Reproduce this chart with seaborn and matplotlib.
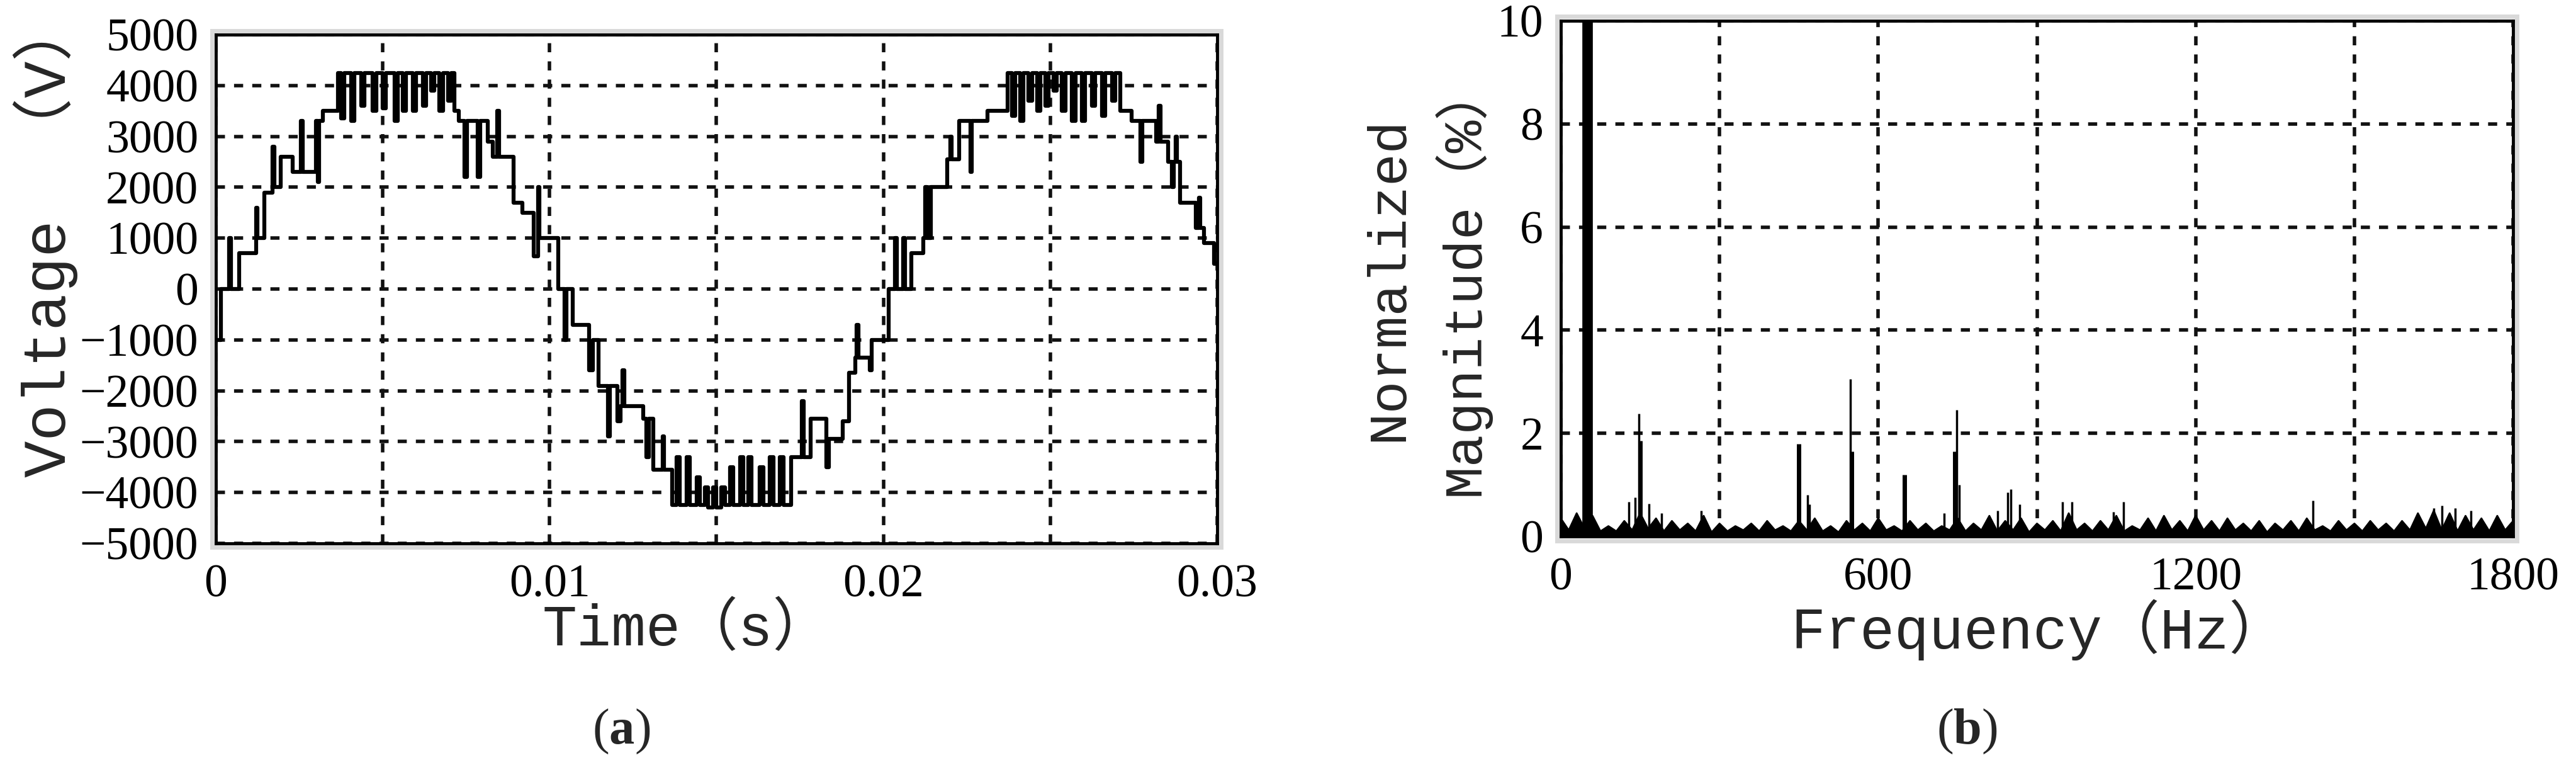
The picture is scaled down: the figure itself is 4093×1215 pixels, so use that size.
import matplotlib
matplotlib.use("Agg")
import matplotlib.pyplot as plt
from matplotlib.patches import Rectangle
import numpy as np
import pandas as pd
import seaborn as sns

# ---- (a) inverter output voltage, step breakpoints ----
# times in ms, voltage in V (held until the next breakpoint)
seg1_t = [0.00, 0.15, 0.40, 0.45, 0.70, 1.20, 1.25, 1.45, 1.70, 1.75,
          1.95, 2.30, 2.55, 2.60, 3.00, 3.05, 3.10, 3.20, 3.66, 3.75,
          3.85, 4.05, 4.15, 4.35, 4.45, 4.70, 4.80, 5.00, 5.10, 5.35,
          5.45, 5.60, 5.70, 5.90, 6.00, 6.20, 6.30, 6.45, 6.55, 6.70,
          6.80, 6.95, 7.05, 7.15, 7.27, 7.45, 7.52, 7.85, 7.92, 8.14,
          8.30, 8.43, 8.48, 8.91, 9.19, 9.53, 9.65, 9.70]
seg1_v = [-1000, 0, 1000, 0, 700, 1600, 1000, 1900, 2800, 2000,
          2600, 2300, 3300, 2300, 3300, 2100, 3300, 3500, 4250, 3350,
          4250, 3300, 4250, 3600, 4250, 3500, 4250, 3550, 4250, 3300,
          4250, 3500, 4250, 3500, 4250, 3600, 4250, 3900, 4250, 3500,
          4250, 3700, 4250, 3500, 3300, 2200, 3300, 2200, 3300, 2900,
          2600, 3500, 2600, 1700, 1500, 650, 2000, 1000]

seg2_t = [10.25, 10.45, 10.50, 10.70, 11.18, 11.30, 11.47, 11.75, 11.80, 12.04,
          12.12, 12.18, 12.23, 12.81, 12.90, 12.97, 13.10, 13.38, 13.43, 13.68,
          13.80, 13.90, 14.10, 14.20, 14.40, 14.50, 14.65, 14.75, 14.90, 15.00,
          15.15, 15.25, 15.40, 15.50, 15.70, 15.80, 15.95, 16.05, 16.30, 16.40,
          16.60, 16.70, 16.90, 17.00, 17.24, 17.55, 17.62, 17.82, 18.30, 18.36,
          18.78, 18.97, 19.16, 19.20, 19.25, 19.60, 19.65]
seg2_v = [0, -1000, 0, -700, -1600, -1000, -1900, -2900, -1900, -2600,
          -2300, -1600, -2300, -2550, -3300, -2550, -3550, -2900, -3550, -4250,
          -3300, -4250, -3300, -4250, -3700, -4250, -3900, -4300, -3900, -4300,
          -3900, -4250, -3500, -4250, -3300, -4250, -3300, -4250, -3500, -4250,
          -3300, -4250, -3300, -4250, -3300, -2200, -3300, -2550, -3500, -2950,
          -2600, -1650, -1350, -700, -1350, -1600, -1000]

seg3_t = [20.15, 20.35, 20.40, 20.60, 20.65, 20.83, 21.19, 21.25, 21.30, 21.43,
          21.91, 22.00, 22.05, 22.27, 22.60, 22.65, 23.11, 23.72, 23.85, 23.95,
          24.10, 24.20, 24.35, 24.45, 24.60, 24.70, 24.85, 24.95, 25.10, 25.20,
          25.35, 25.45, 25.65, 25.75, 25.95, 26.05, 26.25, 26.35, 26.55, 26.65,
          26.85, 26.95, 27.10, 27.20, 27.44, 27.70, 27.75, 28.17, 28.25, 28.30,
          28.53, 28.65, 28.70, 28.75, 28.80, 28.89, 29.36, 29.45, 29.50, 29.60,
          29.90, 30.00]
seg3_v = [0, 1000, 0, 1000, 0, 700, 1000, 2000, 1000, 2000,
          2550, 3000, 2550, 3300, 2300, 3300, 3500, 4250, 3400, 4250,
          3300, 4250, 3700, 4250, 3500, 4250, 3600, 4250, 3900, 4250,
          3500, 4250, 3300, 4250, 3300, 4250, 3600, 4250, 3400, 4250,
          3700, 4250, 3500, 3500, 3300, 2500, 3300, 2900, 3600, 2900,
          2500, 2000, 2500, 3000, 2500, 1700, 1200, 1800, 1200, 900,
          500, 500]

time_ticks = [0, 0.005, 0.01, 0.015, 0.02, 0.025, 0.03]
time_labels = ["0", "", "0.01", "", "0.02", "", "0.03"]
volt_ticks = [-5000, -4000, -3000, -2000, -1000, 0, 1000, 2000, 3000, 4000, 5000]

# ---- (b) harmonic spectrum, % of fundamental ----
fund_freq = [50]
fund_mag = [100]
main_freq = [150, 450, 550, 650, 745]
main_mag = [1.85, 1.8, 1.65, 1.2, 1.65]
spike_freq = [128, 140, 147, 167, 190, 265, 466, 470, 547, 725, 748, 753,
              826, 845, 850, 867, 948, 966, 1045, 1064, 1422, 1650, 1665,
              1690, 1720]
spike_mag = [0.67, 0.76, 2.38, 0.63, 0.45, 0.5, 0.8, 0.62, 3.05, 0.45, 2.45,
             1.0, 0.5, 0.85, 0.92, 0.62, 0.67, 0.67, 0.47, 0.67, 0.7, 0.55,
             0.6, 0.55, 0.5]
# noise floor, sampled every 15 Hz
noise_freq = list(range(0, 1801, 15))
noise_mag = [0.35, 0.12, 0.45, 0.15, 0.40, 0.10, 0.20, 0.10, 0.30, 0.12,
             0.45, 0.15, 0.35, 0.10, 0.30, 0.12, 0.25, 0.10, 0.40, 0.08,
             0.25, 0.10, 0.20, 0.12, 0.25, 0.10, 0.30, 0.12, 0.20, 0.10,
             0.30, 0.12, 0.35, 0.10, 0.20, 0.08, 0.30, 0.12, 0.25, 0.10,
             0.35, 0.12, 0.20, 0.10, 0.30, 0.12, 0.25, 0.10, 0.20, 0.12,
             0.35, 0.10, 0.25, 0.12, 0.40, 0.10, 0.30, 0.12, 0.35, 0.08,
             0.25, 0.12, 0.30, 0.10, 0.45, 0.12, 0.25, 0.10, 0.30, 0.12,
             0.40, 0.10, 0.20, 0.12, 0.35, 0.10, 0.40, 0.12, 0.30, 0.10,
             0.40, 0.12, 0.30, 0.10, 0.35, 0.12, 0.25, 0.10, 0.30, 0.08,
             0.25, 0.12, 0.30, 0.10, 0.35, 0.12, 0.20, 0.10, 0.30, 0.12,
             0.25, 0.10, 0.30, 0.12, 0.25, 0.10, 0.30, 0.12, 0.45, 0.15,
             0.50, 0.12, 0.45, 0.10, 0.40, 0.12, 0.35, 0.10, 0.40, 0.12,
             0.30]

freq_ticks = [0, 300, 600, 900, 1200, 1500, 1800]
freq_labels = ["0", "", "600", "", "1200", "", "1800"]
mag_ticks = [0, 2, 4, 6, 8, 10]

# ---- style ----
sns.set_style("white")
plt.rcParams["font.family"] = ["Liberation Serif", "Noto Sans CJK SC"]
plt.rcParams["mathtext.fontset"] = "custom"
plt.rcParams["mathtext.rm"] = "Liberation Serif"
plt.rcParams["mathtext.bf"] = "Liberation Serif:bold"

label_font = ["Liberation Mono", "Noto Sans CJK SC"]
label_size = 66
ink = "#111111"
grid_style = dict(color=ink, linestyle=(0, (2.6, 2.6)), linewidth=4)

fig = plt.figure(figsize=(40.93, 12.15), dpi=100)
ax1 = fig.add_axes([0.0838, 0.2897, 0.3887, 0.665])
ax2 = fig.add_axes([0.6059, 0.2988, 0.3697, 0.674])

# (a) voltage waveform
wave = pd.DataFrame({
    "t": np.array(seg1_t + seg2_t + seg3_t) / 1000.0,
    "v": seg1_v + seg2_v + seg3_v,
})
sns.lineplot(data=wave, x="t", y="v", ax=ax1, color="black", linewidth=4.5,
             drawstyle="steps-post", estimator=None, sort=False)
ax1.set_xlim(0, 0.03)
ax1.set_ylim(-5000, 5000)
ax1.set_xticks(time_ticks)
ax1.set_xticklabels(time_labels)
ax1.set_yticks(volt_ticks)
ax1.set_xlabel("Time（s）", fontsize=label_size, family=label_font, va="center")
ax1.set_ylabel("Voltage\u3000（V）", fontsize=label_size + 4,
               family=label_font, va="center")
ax1.xaxis.set_label_coords(0.47, -0.17)
ax1.yaxis.set_label_coords(-0.17, 0.6)

# (b) spectrum
ax2.fill_between(noise_freq, 0, noise_mag, color="black", linewidth=0)
ax2.axhspan(0, 0.1, color="black", linewidth=0)
sns.lineplot(x=noise_freq, y=noise_mag, ax=ax2, color="black", linewidth=2,
             estimator=None, sort=False)
ax2.vlines(spike_freq, 0, spike_mag, color="black", linewidth=2.5)
ax2.vlines(main_freq, 0, main_mag, color="black", linewidth=5)
ax2.vlines(fund_freq, 0, fund_mag, color="black", linewidth=12)
ax2.set_xlim(0, 1800)
ax2.set_ylim(0, 10)
ax2.set_xticks(freq_ticks)
ax2.set_xticklabels(freq_labels)
ax2.set_yticks(mag_ticks)
ax2.set_xlabel("Frequency（Hz）", fontsize=label_size, family=label_font,
               va="center")
ax2.set_ylabel("Normalized\nMagnitude（%）", fontsize=label_size - 4,
               family=label_font, va="center", linespacing=1.4)
ax2.xaxis.set_label_coords(0.502, -0.181)
ax2.yaxis.set_label_coords(-0.141, 0.5)

for ax in (ax1, ax2):
    ax.set_axisbelow(True)
    ax.grid(True, **grid_style)
    ax.tick_params(axis="both", length=0, labelsize=53, colors="black")
    ax.tick_params(axis="x", pad=24)
    ax.tick_params(axis="y", pad=20)
    for spine in ax.spines.values():
        spine.set_visible(True)
        spine.set_color("black")
        spine.set_linewidth(3.5)
        spine.set_zorder(5)
    # faint grey frame around the plot box
    ax.add_patch(Rectangle((-0.004, -0.008), 1.008, 1.016,
                           transform=ax.transAxes, fill=False,
                           edgecolor="#d9d9d9", linewidth=5,
                           clip_on=False, zorder=0))

fig.text(0.2411, 0.044, r"($\mathbf{a}$)", ha="center", va="center",
         fontsize=58, family="Liberation Serif")
fig.text(0.7637, 0.044, r"($\mathbf{b}$)", ha="center", va="center",
         fontsize=58, family="Liberation Serif")

fig.savefig("out.png", dpi=100)
plt.close(fig)
